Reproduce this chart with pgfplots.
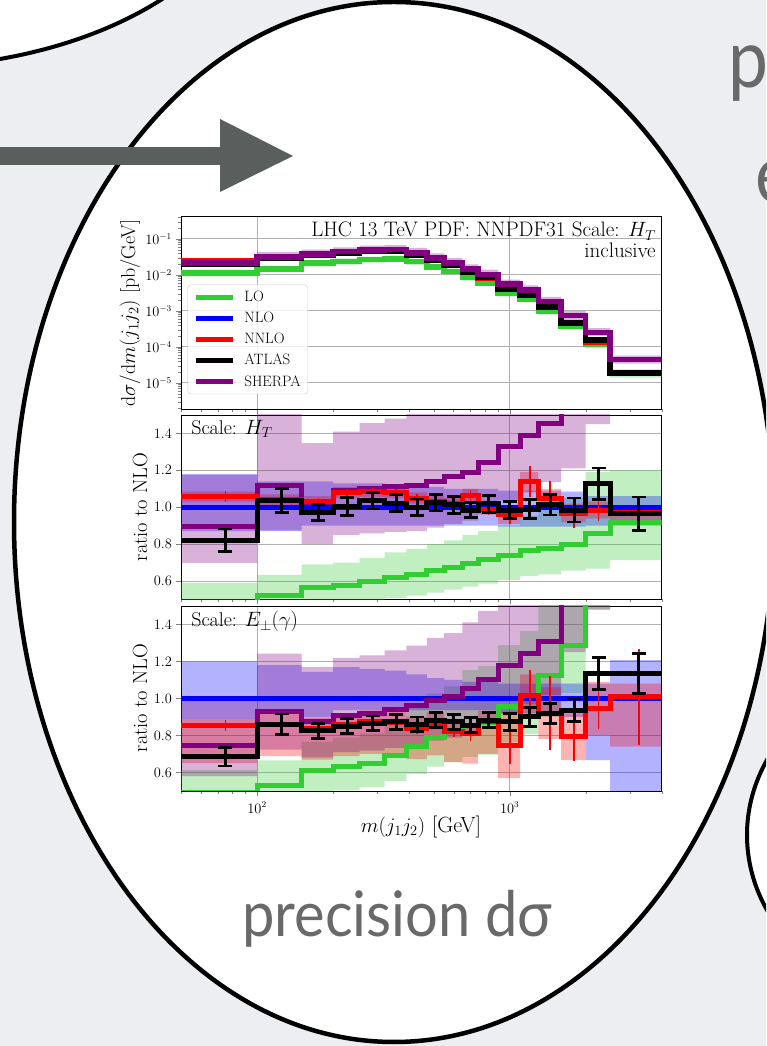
\documentclass[border=0pt]{standalone}
\usepackage{fontspec}
\usepackage{graphicx}
\usepackage{pgfplots}
\usepackage{pgfplotstable}
\pgfplotsset{compat=1.18}
\newfontfamily\slidefont{Lato}

\definecolor{slidebg}{RGB}{236,238,242}
\definecolor{arrowgray}{RGB}{90,94,93}
\definecolor{slidetext}{RGB}{105,105,105}
\definecolor{cLO}{RGB}{50,205,50}
\definecolor{cNLO}{RGB}{0,0,255}
\definecolor{cNNLO}{RGB}{255,0,0}
\definecolor{cSH}{RGB}{128,0,128}
\definecolor{gridc}{RGB}{176,176,176}

% absolute cross sections (H_T scale), bin left edges, last row closes the final bin
\pgfplotstableread{
x     lo        nlo       nnlo      atlas     sh
50    0.01114   0.0237    0.0251    0.0195    0.0212
100   0.01456   0.0280    0.0291    0.029     0.0314
150   0.02096   0.0371    0.0382    0.036     0.0380
200   0.02346   0.0408    0.0441    0.041     0.0445
255   0.02642   0.0444    0.0482    0.046     0.0488
320   0.0279    0.0450    0.0486    0.046     0.0500
390   0.02311   0.0364    0.0382    0.036     0.0406
470   0.01664   0.0254    0.0262    0.026     0.0290
550   0.01249   0.0185    0.0189    0.0187    0.0216
650   0.00848   0.0122    0.0130    0.012     0.0145
750   0.00597   0.00835   0.00827   0.0085    0.01035
900   0.00308   0.00416   0.00399   0.0041    0.00553
1100  0.00209   0.00273   0.00311   0.0027    0.00379
1300  9.61e-4   0.00124   0.00130   0.00126   0.00181
1600  3.74e-4   4.67e-4   4.52e-4   4.6e-4    7.47e-4
2000  1.176e-4  1.375e-4  1.354e-4  1.55e-4   2.54e-4
2500  1.81e-5   1.97e-5   1.91e-5   1.9e-5    4.43e-5
4000  1.81e-5   1.97e-5   1.91e-5   1.9e-5    4.43e-5
}\topdata

% absolute LO and SHERPA uncertainty bands: upper edges, then lower edges backwards
\pgfplotstableread{
x     lo        sh
50    0.01398   0.02786
100   0.01775   0.04346
150   0.0256    0.04998
200   0.02856   0.05756
255   0.03224   0.06459
320   0.03402   0.06667
390   0.0282    0.05639
470   0.02032   0.03943
550   0.01517   0.02887
650   0.01037   0.0195
750   0.007264  0.01386
900   0.003746  0.0074
1100  0.002609  0.00507
1300  0.001228  0.002424
1600  4.91e-4   9.8e-4
2000  1.637e-4  3.3e-4
2500  2.36e-5   5.71e-5
4000  2.36e-5   5.71e-5
4000  1.405e-5  3.45e-5
2500  9.17e-5   1.99e-4
2000  3.07e-4   5.65e-4
1600  7.89e-4   0.001412
1300  0.001713  0.002956
1100  0.002526  0.00431
900   0.004893  0.00807
750   0.006955  0.01131
650   0.01025   0.01684
550   0.01364   0.02261
470   0.01896   0.03165
390   0.02286   0.03901
320   0.02167   0.03806
255   0.01926   0.0347
200   0.01718   0.02966
150   0.01193   0.0245
100   0.009125  0.01653
50    0.009125  0.01653
}\bandTop

% ratios to NLO, scale H_T (step lines)
\pgfplotstableread{
x     lo    nlo nnlo  sh    atlas
50    0.47  1   1.058 0.895 0.822
100   0.52  1   1.04  1.12  1.036
150   0.565 1   1.03  1.025 0.971
200   0.575 1   1.08  1.09  1.004
255   0.595 1   1.085 1.10  1.036
320   0.62  1   1.08  1.11  1.022
390   0.635 1   1.05  1.116 1.0
470   0.655 1   1.03  1.14  1.025
550   0.675 1   1.02  1.167 1.013
650   0.695 1   1.065 1.19  0.985
750   0.715 1   0.99  1.24  1.018
900   0.74  1   0.958 1.33  0.985
1100  0.765 1   1.14  1.39  0.99
1300  0.775 1   1.05  1.456 1.013
1600  0.80  1   0.967 1.6   0.985
2000  0.855 1   0.985 1.85  1.127
2500  0.92  1   0.97  2.25  0.964
4000  0.92  1   0.97  2.25  0.964
}\ratioHT

% uncertainty bands, scale H_T: upper edges left to right, lower edges right to left
\pgfplotstableread{
x     lo    nlo   nnlo  sh
50    0.59  1.18  1.085 1.176
100   0.634 1.14  1.07  1.55
150   0.69  1.14  1.06  1.348
200   0.70  1.13  1.11  1.41
255   0.726 1.13  1.115 1.456
320   0.756 1.12  1.11  1.48
390   0.775 1.12  1.08  1.55
470   0.80  1.11  1.06  1.55
550   0.82  1.10  1.05  1.56
650   0.85  1.10  1.10  1.6
750   0.87  1.10  1.02  1.66
900   0.90  1.09  0.99  1.78
1100  0.955 1.09  1.19  1.86
1300  0.99  1.09  1.10  1.95
1600  1.05  1.085 1.02  2.1
2000  1.19  1.06  1.03  2.4
2500  1.20  1.06  1.01  2.9
4000  1.20  1.06  1.01  2.9
4000  0.714 0.90  0.93  1.75
2500  0.667 0.90  0.94  1.45
2000  0.656 0.895 0.92  1.21
1600  0.636 0.895 1.00  1.136
1300  0.627 0.895 1.08  1.084
1100  0.607 0.895 0.91  1.037
900   0.586 0.90  0.96  0.967
750   0.57  0.90  1.03  0.928
650   0.554 0.90  0.99  0.91
550   0.537 0.90  1.00  0.889
470   0.521 0.90  1.02  0.87
390   0.508 0.90  1.05  0.866
320   0.488 0.90  1.055 0.858
255   0.472 0.90  1.05  0.85
200   0.463 0.90  1.00  0.80
150   0.426 0.87  1.01  0.874
100   0.385 0.87  1.03  0.698
50    0.385 0.87  1.03  0.698
}\bandHT

% ratios to NLO, scale E_perp(gamma) (step lines)
\pgfplotstableread{
x     lo    nlo nnlo  sh    atlas
50    0.49  1   0.856 0.744 0.685
100   0.532 1   0.86  0.928 0.861
150   0.613 1   0.838 0.874 0.825
200   0.63  1   0.86  0.91  0.85
255   0.649 1   0.875 0.92  0.865
320   0.694 1   0.87  0.94  0.874
390   0.74  1   0.84  0.96  0.86
470   0.79  1   0.865 0.99  0.883
550   0.82  1   0.82  1.01  0.874
650   0.855 1   0.81  1.054 0.856
750   0.87  1   0.874 1.10  0.883
900   0.955 1   0.748 1.18  0.874
1100  1.01  1   1.018 1.243 0.90
1300  1.126 1   0.92  1.306 0.92
1600  1.288 1   0.793 1.6   0.937
2000  1.85  1   0.946 1.9   1.135
2500  2.2   1   1.01  2.3   1.135
4000  2.2   1   1.01  2.3   1.135
}\ratioEp

% uncertainty bands, scale E_perp(gamma)
\pgfplotstableread{
x     lo    nlo   nnlo  sh
50    0.613 1.20  0.89  0.997
100   0.665 1.18  0.92  1.243
150   0.766 1.144 0.897 1.171
200   0.788 1.17  0.92  1.22
255   0.811 1.16  0.936 1.233
320   0.868 1.15  0.931 1.26
390   0.962 1.13  0.899 1.286
470   1.027 1.11  0.926 1.327
550   1.066 1.10  0.877 1.353
650   1.154 1.09  0.867 1.412
750   1.175 1.09  0.935 1.474
900   1.289 1.08  0.93  1.58
1100  1.364 1.08  1.13  1.67
1300  1.52  1.08  1.06  1.75
1600  1.74  1.08  0.92  2.14
2000  2.5   1.08  1.09  2.55
2500  2.97  1.207 1.08  3.08
4000  2.97  1.207 1.08  3.08
4000  1.76  0.45  0.74  1.79
2500  1.48  0.667 0.80  1.48
2000  1.03  0.90  0.667 1.25
1600  0.90  0.91  0.78  1.02
1300  0.808 0.92  0.90  0.97
1100  0.764 0.92  0.57  0.92
900   0.696 0.937 0.70  0.858
750   0.684 0.937 0.648 0.822
650   0.656 0.937 0.656 0.788
550   0.632 0.937 0.692 0.772
470   0.592 0.937 0.672 0.749
390   0.555 0.937 0.696 0.733
320   0.519 0.937 0.70  0.718
255   0.504 0.937 0.688 0.71
200   0.49  0.90  0.67  0.682
150   0.426 0.937 0.688 0.724
100   0.392 0.89  0.65  0.58
50    0.392 0.89  0.65  0.58
}\bandEp

% bin centres with uncertainties
\pgfplotstableread{
xc     atlasH eH    nnloH enH   atlasE eE    nnloE enE
75     0.822  0.06  1.058 0.03  0.685  0.05  0.856 0.03
125    1.036  0.065 1.04  0.02  0.861  0.055 0.86  0.02
175    0.971  0.045 1.03  0.02  0.825  0.04  0.838 0.02
227.5  1.004  0.05  1.08  0.02  0.85   0.04  0.86  0.02
287.5  1.036  0.045 1.085 0.02  0.865  0.04  0.875 0.02
355    1.022  0.045 1.08  0.02  0.874  0.04  0.87  0.03
430    1.0    0.045 1.05  0.02  0.86   0.04  0.84  0.03
510    1.025  0.045 1.03  0.02  0.883  0.04  0.865 0.03
600    1.013  0.045 1.02  0.02  0.874  0.04  0.82  0.03
700    0.985  0.04  1.065 0.03  0.856  0.04  0.81  0.04
825    1.018  0.045 0.99  0.03  0.883  0.04  0.874 0.03
1000   0.985  0.045 0.958 0.05  0.874  0.045 0.748 0.10
1200   0.99   0.05  1.14  0.085 0.90   0.05  1.018 0.135
1450   1.013  0.055 1.05  0.09  0.92   0.055 0.92  0.20
1800   0.985  0.065 0.967 0.08  0.937  0.063 0.793 0.13
2250   1.127  0.086 0.985 0.06  1.135  0.088 0.946 0.11
3250   0.964  0.092 0.97  0.03  1.135  0.108 1.01  0.26
}\centres

% one ratio panel: bands, step lines and bin-centre uncertainties
\newcommand{\ratiocontent}[4]{%
  \addplot[const plot, fill=cLO, fill opacity=0.3, draw=none] table[x=x,y=lo]{#2};
  \addplot[const plot, fill=cNLO, fill opacity=0.3, draw=none] table[x=x,y=nlo]{#2};
  \addplot[const plot, fill=cNNLO, fill opacity=0.3, draw=none] table[x=x,y=nnlo]{#2};
  \addplot[const plot, fill=cSH, fill opacity=0.3, draw=none] table[x=x,y=sh]{#2};
  \addplot[const plot, draw=cLO, line width=5pt] table[x=x,y=lo]{#1};
  \addplot[const plot, draw=cNLO, line width=5pt] table[x=x,y=nlo]{#1};
  \addplot[const plot, draw=cSH, line width=5pt] table[x=x,y=sh]{#1};
  \addplot[const plot, draw=cNNLO, line width=5pt] table[x=x,y=nnlo]{#1};
  \addplot[draw=none, mark=none, error bars/.cd, y dir=both, y explicit,
    error mark=none, error bar style={draw=cNNLO, line width=1.8pt}]
    table[x=xc, y=nnlo#3, y error=en#3]{\centres};
  \addplot[const plot, draw=black, line width=5pt] table[x=x,y=atlas]{#1};
  \addplot[draw=none, mark=none, error bars/.cd, y dir=both, y explicit,
    error bar style={draw=black, line width=3pt},
    error mark options={rotate=90, draw=black, line width=2.8pt, mark size=7pt}]
    table[x=xc, y=atlas#3, y error=e#3]{\centres};
  \node[anchor=north west, inner sep=0pt, font=\fontsize{20}{20}\selectfont]
    at (rel axis cs:0.021,0.972) {Scale: #4};
}

\begin{document}
\begin{tikzpicture}
\useasboundingbox (0,0) rectangle (766pt,1046pt);
\clip (0,0) rectangle (766pt,1046pt);
\fill[slidebg] (0,0) rectangle (766pt,1046pt);

% slide shapes
\draw[line width=4pt, fill=white] (-100pt,1196pt) ellipse [x radius=360pt, y radius=217.5pt];
\draw[line width=4pt, fill=white] (947pt,211pt) ellipse [x radius=200pt, y radius=172pt];
\draw[line width=4.5pt, fill=white] (394pt,524pt) ellipse [x radius=380pt, y radius=520pt];
\fill[arrowgray] (-5pt,881pt) rectangle (221pt,899pt);
\fill[arrowgray] (220pt,927pt) -- (293pt,890pt) -- (220pt,854pt) -- cycle;

\node[anchor=base west, inner sep=0pt, text=slidetext]
  at (728pt,958pt) {\scalebox{0.88}[1]{\fontsize{81}{81}\slidefont p}};
\node[anchor=base west, inner sep=0pt, text=slidetext]
  at (755pt,843pt) {\scalebox{0.88}[1]{\fontsize{81}{81}\slidefont e}};
\node[anchor=north west, inner sep=0pt, text=slidetext]
  at (242pt,156pt) {\resizebox*{310pt}{57pt}{\slidefont precision dσ}};

% cross section panel
\begin{axis}[
  at={(181pt,636.7pt)}, anchor=south west,
  scale only axis, width=480.7pt, height=192.6pt,
  xmode=log, xmin=50, xmax=4000,
  xtick={100,1000},
  minor xtick={50,60,70,80,90,200,300,400,500,600,700,800,900,2000,3000,4000},
  xticklabels={},
  ymode=log, ymin=1.85e-6, ymax=0.411,
  ytick={1e-5,1e-4,1e-3,1e-2,1e-1},
  minor ytick={2e-6,3e-6,4e-6,5e-6,6e-6,7e-6,8e-6,9e-6,
    2e-5,3e-5,4e-5,5e-5,6e-5,7e-5,8e-5,9e-5,
    2e-4,3e-4,4e-4,5e-4,6e-4,7e-4,8e-4,9e-4,
    2e-3,3e-3,4e-3,5e-3,6e-3,7e-3,8e-3,9e-3,
    2e-2,3e-2,4e-2,5e-2,6e-2,7e-2,8e-2,9e-2,
    2e-1,3e-1,4e-1},
  tick align=outside, tick pos=left,
  major tick length=5pt, minor tick length=3pt,
  grid=major, major grid style={gridc, line width=0.8pt},
  axis line style={black, line width=0.8pt},
  tick label style={font=\fontsize{13.5}{14}\selectfont},
  yticklabel style={inner sep=0pt, xshift=-4pt},
  legend cell align=left,
  legend image code/.code={\draw[#1] (0pt,0pt) -- (37pt,0pt);},
  legend style={at={(0.0139,0.647)}, anchor=north west,
    draw=black!20, fill=white, fill opacity=0.8, text opacity=1,
    rounded corners=3pt, inner xsep=5pt, inner ysep=4.5pt,
    row sep=5pt, column sep=7pt,
    font=\fontsize{15}{15}\selectfont},
]
\addplot[const plot, fill=cLO, fill opacity=0.3, draw=none, forget plot]
  table[x=x,y=lo]{\bandTop};
\addplot[const plot, fill=cSH, fill opacity=0.3, draw=none, forget plot]
  table[x=x,y=sh]{\bandTop};
\addplot[const plot, draw=cLO, line width=5.5pt] table[x=x,y=lo]{\topdata};
\addlegendentry{LO}
\addplot[const plot, draw=cNLO, line width=5.5pt] table[x=x,y=nlo]{\topdata};
\addlegendentry{NLO}
\addplot[const plot, draw=cNNLO, line width=5.5pt] table[x=x,y=nnlo]{\topdata};
\addlegendentry{NNLO}
\addplot[const plot, draw=black, line width=5.5pt] table[x=x,y=atlas]{\topdata};
\addlegendentry{ATLAS}
\addplot[const plot, draw=cSH, line width=5.5pt] table[x=x,y=sh]{\topdata};
\addlegendentry{SHERPA}
\node[anchor=north east, align=right, inner sep=0pt,
  font=\fontsize{21}{21}\selectfont]
  at (rel axis cs:0.988,0.972) {LHC 13 TeV PDF: NNPDF31 Scale: $H_T$\\inclusive};
\end{axis}

% ratio panel, H_T scale
\begin{axis}[
  at={(181pt,446.5pt)}, anchor=south west,
  scale only axis, width=480.7pt, height=184.5pt,
  xmode=log, xmin=50, xmax=4000,
  xtick={100,1000},
  minor xtick={50,60,70,80,90,200,300,400,500,600,700,800,900,2000,3000,4000},
  xticklabels={},
  ymin=0.5, ymax=1.5, ytick={0.6,0.8,1.0,1.2,1.4},
  tick align=outside, tick pos=left,
  major tick length=5pt, minor tick length=3pt,
  grid=major, major grid style={gridc, line width=0.8pt},
  axis line style={black, line width=0.8pt},
  tick label style={font=\fontsize{13.5}{14}\selectfont},
  yticklabel style={inner sep=0pt, xshift=-4pt,
    /pgf/number format/fixed, /pgf/number format/fixed zerofill,
    /pgf/number format/precision=1},
]
\ratiocontent{\ratioHT}{\bandHT}{H}{$H_T$}
\end{axis}

% ratio panel, photon transverse energy scale
\begin{axis}[
  at={(181pt,255pt)}, anchor=south west,
  scale only axis, width=480.7pt, height=185pt,
  xmode=log, xmin=50, xmax=4000,
  xtick={100,1000},
  minor xtick={50,60,70,80,90,200,300,400,500,600,700,800,900,2000,3000,4000},
  ymin=0.5, ymax=1.5, ytick={0.6,0.8,1.0,1.2,1.4},
  tick align=outside, tick pos=left,
  major tick length=5pt, minor tick length=3pt,
  grid=major, major grid style={gridc, line width=0.8pt},
  axis line style={black, line width=0.8pt},
  tick label style={font=\fontsize{13.5}{14}\selectfont},
  xticklabel style={inner sep=0pt, yshift=-6pt},
  yticklabel style={inner sep=0pt, xshift=-4pt,
    /pgf/number format/fixed, /pgf/number format/fixed zerofill,
    /pgf/number format/precision=1},
]
\ratiocontent{\ratioEp}{\bandEp}{E}{$E_\perp(\gamma)$}
\end{axis}

% axis titles
\node[rotate=90, font=\fontsize{20}{20}\selectfont] at (130pt,733pt)
  {$\mathrm{d}\sigma/\mathrm{d}m(j_1j_2)$ [pb/GeV]};
\node[rotate=90, font=\fontsize{20.5}{20.5}\selectfont] at (140pt,539pt) {ratio to NLO};
\node[rotate=90, font=\fontsize{20.5}{20.5}\selectfont] at (140pt,348pt) {ratio to NLO};
\node[font=\fontsize{22}{22}\selectfont] at (421pt,219pt) {$m(j_1j_2)$ [GeV]};
\end{tikzpicture}
\end{document}
